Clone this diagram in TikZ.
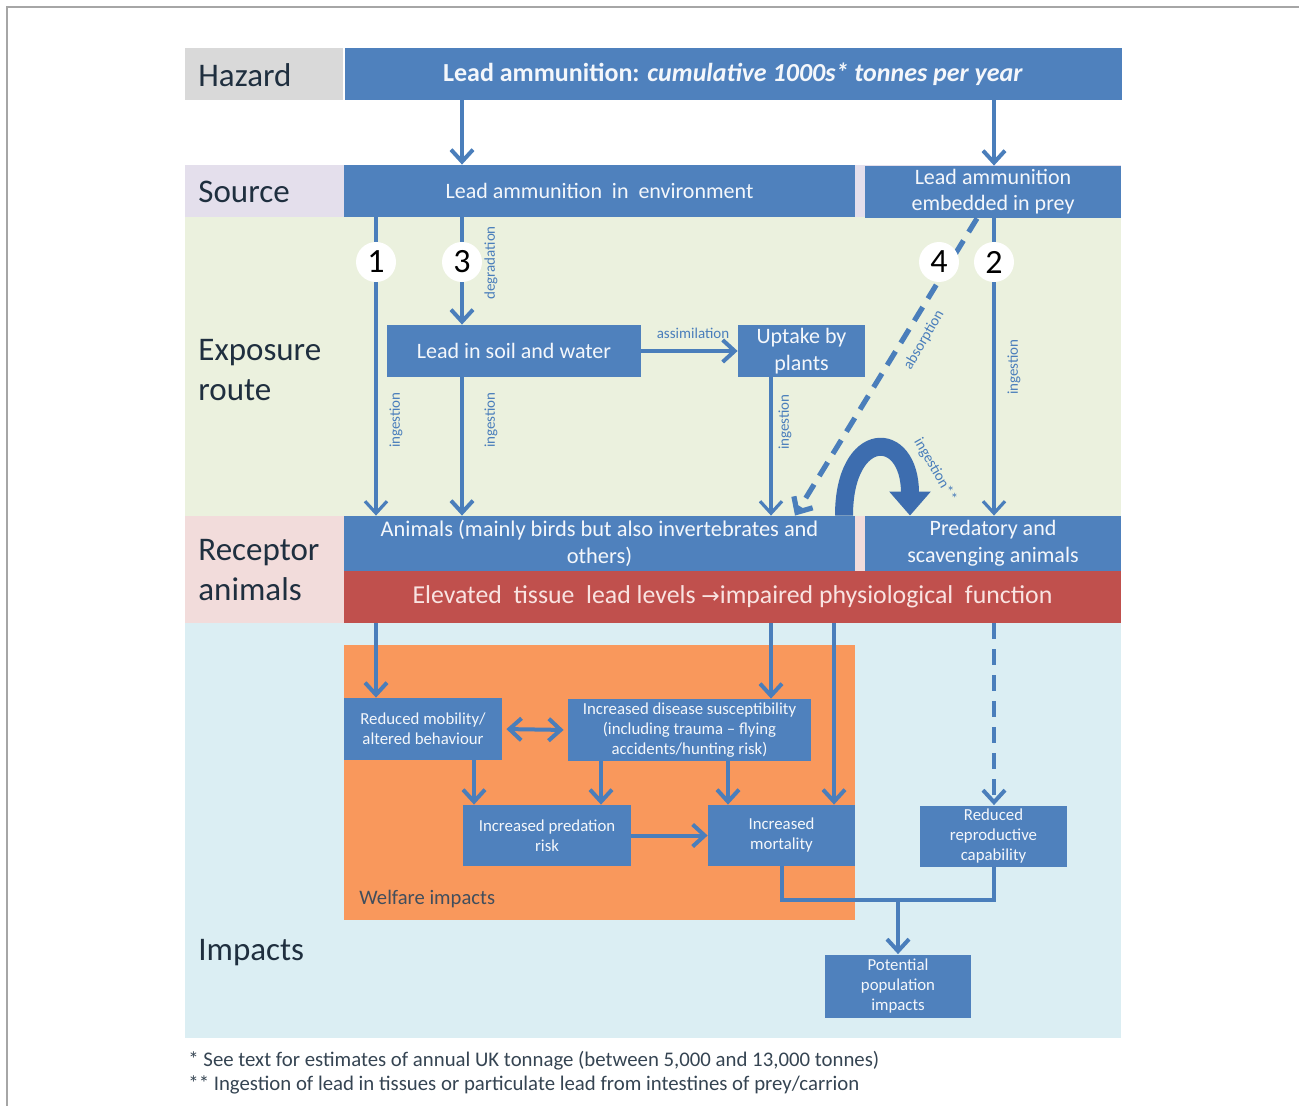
\documentclass[tikz,border=0pt]{standalone}
\usepackage{fontspec}
\setmainfont{Carlito}
\newfontfamily\symfont{DejaVu Sans}
\usetikzlibrary{arrows.meta,calc}
\definecolor{boxblue}{HTML}{4F81BD}
\definecolor{arrowblue}{HTML}{4A7EBB}
\definecolor{arcblue}{HTML}{3D6DAF}
\definecolor{hazgrey}{HTML}{D9D9D9}
\definecolor{srclav}{HTML}{E4DFEC}
\definecolor{expgreen}{HTML}{EBF1DE}
\definecolor{recpink}{HTML}{F2DCDB}
\definecolor{impblue}{HTML}{DBEEF3}
\definecolor{redbox}{HTML}{C0504D}
\definecolor{orangebox}{HTML}{F9985C}
\definecolor{labtext}{HTML}{1F2F3F}
\definecolor{boxtext}{HTML}{F4F7FB}
\definecolor{redtext}{HTML}{F9E3E1}
\definecolor{frame}{HTML}{A6A6A6}
\begin{document}
\begin{tikzpicture}[x=0.5pt,y=-0.5pt,
  >={Straight Barb[length=6pt,width=11pt]},
  bx/.style={fill=boxblue, text=boxtext, inner sep=0pt, align=center, font=\fontsize{11}{13}\selectfont},
  sbx/.style={bx, font=\fontsize{8.4}{10}\selectfont},
  lab/.style={anchor=west, text=labtext, font=\fontsize{16.5}{20}\selectfont, align=left, inner sep=0pt},
  arr/.style={draw=arrowblue, line width=2pt, ->},
  arrthin/.style={arr, line width=1.6pt},
  conn/.style={draw=arrowblue, line width=2pt},
  alab/.style={text=arrowblue, font=\fontsize{7.5}{9}\selectfont, inner sep=1pt},
  num/.style={circle, fill=white, minimum size=20pt, inner sep=0pt, text=black, font=\fontsize{17}{17}\selectfont}
]
\useasboundingbox (0,0) rectangle (1299,1106);
% page frame
\draw[frame, line width=0.8pt] (7,1106) -- (7,7) -- (1299,7);

% row backgrounds
\fill[hazgrey] (185,48) rectangle (343,100);
\fill[srclav] (185,165) rectangle (1121,217);
\fill[expgreen] (185,217) rectangle (1121,516);
\fill[recpink] (185,516) rectangle (1121,623);
\fill[impblue] (185,623) rectangle (1121,1038);
\fill[orangebox] (344,645) rectangle (855,920);

% row labels
\node[lab] (lhaz) at (198,75) {Hazard};
\node[lab] (lsrc) at (198,192) {Source};
\node[lab] (lexp) at (198,370) {Exposure\\route};
\node[lab] (lrec) at (198,570) {Receptor\\animals};
\node[lab] (limp) at (198,953) {Impacts};

% boxes
\node[bx, minimum width=388.5pt, minimum height=26pt, font=\bfseries\fontsize{13}{15}\selectfont] (haz) at (733,74)
  {Lead ammunition: \textit{cumulative 1000s* tonnes per year}};
\node[bx, minimum width=255.5pt, minimum height=26pt] (src) at (599.5,191) {Lead ammunition\ \ in\ \ environment};
\node[bx, minimum width=128pt, minimum height=26pt] (emb) at (993,192) {Lead ammunition\\embedded in prey};
\node[bx, minimum width=127pt, minimum height=26pt] (soil) at (514,351) {Lead in soil and water};
\node[bx, minimum width=63.5pt, minimum height=26pt, font=\fontsize{11}{13.5}\selectfont] (plant) at (801.5,351) {Uptake by\\plants};
\node[bx, minimum width=255.5pt, minimum height=27.5pt, font=\fontsize{11.2}{13.5}\selectfont] (ani) at (599.5,543.5) {Animals (mainly birds but also invertebrates and\\others)};
\node[bx, minimum width=128pt, minimum height=27.5pt, font=\fontsize{11}{13.5}\selectfont] (pred) at (993,543.5) {Predatory and\\scavenging animals};
\node[bx, fill=redbox, text=redtext, minimum width=388.5pt, minimum height=26pt, font=\fontsize{12.9}{14}\selectfont] (red) at (732.5,597)
  {Elevated\ \ tissue\ \ lead levels {\symfont\fontsize{11}{12}\selectfont →}impaired physiological\ \ function};

\node[sbx, minimum width=79pt, minimum height=31pt] (mob) at (423,729) {Reduced mobility/\\altered behaviour};
\node[sbx, minimum width=121.5pt, minimum height=31pt] (dis) at (689.5,730) {Increased disease susceptibility\\(including trauma -- flying\\accidents/hunting risk)};
\node[sbx, minimum width=84pt, minimum height=30.5pt] (pre) at (547,835.5) {Increased predation\\risk};
\node[sbx, minimum width=73.5pt, minimum height=30.5pt] (mor) at (781.5,835.5) {Increased\\mortality};
\node[sbx, minimum width=73.5pt, minimum height=30.5pt] (rep) at (993.5,836) {Reduced\\reproductive\\capability};
\node[sbx, minimum width=73pt, minimum height=31.5pt] (pop) at (898,986) {Potential\\population\\impacts};
\node[anchor=west, inner sep=0pt, text=labtext!85, font=\fontsize{10.3}{12}\selectfont] (welf) at (359,899) {Welfare impacts};

% hazard -> source
\draw[arr] (haz.south -| 462,0) -- (src.north -| 462,0);
\draw[arr] (haz.south -| 994,0) -- (emb.north -| 994,0);

% exposure routes
\draw[arrthin] (src.south -| 376,0) -- (ani.north -| 376,0);
\draw[arr] (src.south -| 462,0) -- (soil.north -| 462,0);
\draw[arr] (soil.south -| 462,0) -- (ani.north -| 462,0);
\draw[arr] (soil.east) -- (plant.west);
\draw[arrthin] (plant.south -| 771,0) -- (ani.north -| 771,0);
\draw[arrthin] (emb.south -| 994,0) -- (pred.north -| 994,0);
\draw[arr, line width=2.6pt, dash pattern=on 8pt off 5pt] (emb.south -| 977,0) -- (ani.north -| 795,0);
\draw[draw=arcblue, line width=9pt, -{Triangle[length=12pt,width=20pt]}] (ani.north -| 844,0) .. controls (844,428) and (910,428) .. (pred.north -| 910,0);

% route numbers
\node[num] (n1) at (376,262) {1};
\node[num] (n3) at (462,262) {3};
\node[num] (n4) at (939,262) {4};
\node[num] (n2) at (994,262) {2};

% route labels
\node[alab, rotate=90] (t1) at (396,420) {ingestion};
\node[alab, rotate=90] (t2) at (491,263) {degradation};
\node[alab, rotate=90] (t3) at (491,420) {ingestion};
\node[alab] (t4) at (693,333) {assimilation};
\node[alab, rotate=90] (t5) at (785,422) {ingestion};
\node[alab, rotate=90] (t6) at (1014,367) {ingestion};
\node[alab, rotate=60] (t7) at (924,340) {absorption};
\node[alab, rotate=-60] (t8) at (935,470) {ingestion**};

% impacts
\draw[arr] (red.south -| 376,0) -- (mob.north -| 376,0);
\draw[arr] (red.south -| 771,0) -- (dis.north -| 771,0);
\draw[arr] (red.south -| 834,0) -- (mor.north -| 834,0);
\draw[arr, dash pattern=on 8pt off 5pt] (red.south -| 994,0) -- (rep.north -| 994,0);
\draw[arr, <->, shorten <=2pt, shorten >=2pt] (mob.east) -- (dis.west);
\draw[arr] (mob.south -| 474,0) -- (pre.north -| 474,0);
\draw[arr] (dis.south -| 601,0) -- (pre.north -| 601,0);
\draw[arr] (dis.south -| 728,0) -- (mor.north -| 728,0);
\draw[arr] (pre.east) -- (mor.west);
\draw[conn] (mor.south) -- ++(0,34) -| (rep.south);
\draw[arr] (pop.north |- 0,900) -- (pop.north);

% footnotes
\node[anchor=west, inner sep=0pt, text=labtext!90, font=\fontsize{10.4}{11}\selectfont] (f1) at (188,1061) {* See text for estimates of annual UK tonnage (between 5,000 and 13,000 tonnes)};
\node[anchor=west, inner sep=0pt, text=labtext!90, font=\fontsize{10.4}{11}\selectfont] (f2) at (188,1085) {** Ingestion of lead in tissues or particulate lead from intestines of prey/carrion};
\end{tikzpicture}
\end{document}
